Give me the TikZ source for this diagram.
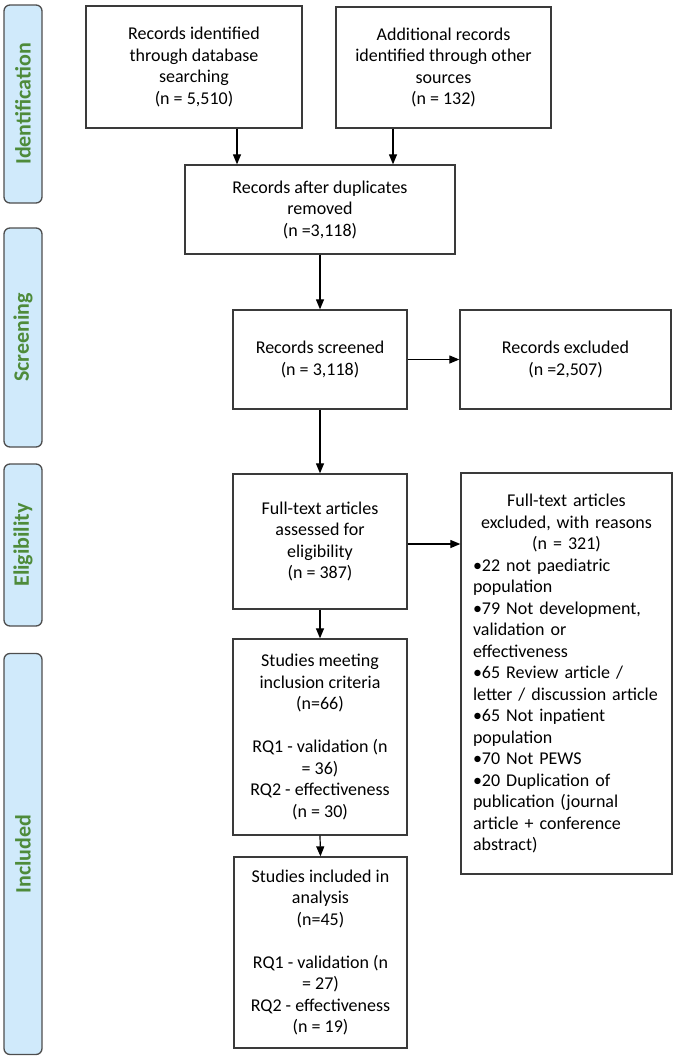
\documentclass[tikz,border=0pt]{standalone}
\usepackage{fontspec}
\setmainfont{Carlito}
\usetikzlibrary{arrows.meta,calc}
\definecolor{barfill}{HTML}{D0EAFB}
\definecolor{bartext}{HTML}{4E8B3A}
\definecolor{boxline}{HTML}{3A3A3A}
\begin{document}
\begin{tikzpicture}[x=1pt,y=-1pt,
  flowbox/.style={draw=boxline,line width=1.3pt,fill=white,inner sep=0pt,align=center,
    font=\fontsize{18}{21.5}\selectfont},
  phasebar/.style={draw=boxline!90,line width=1.3pt,fill=barfill,rounded corners=6pt,inner sep=0pt,
    minimum width=38pt},
  phaselabel/.style={rotate=90,text=bartext,font=\fontsize{22}{26}\selectfont\bfseries},
  flowarrow/.style={-{Triangle[length=10pt,width=8pt]},line width=1.2pt,draw=black}]
\useasboundingbox (0,0) rectangle (674,1060);
% phase bars
\node[phasebar,minimum height=198pt] (pb1) at (23,104) {};
\node[phaselabel] (pl1) at (pb1.center) {Identification};
\node[phasebar,minimum height=219pt] (pb2) at (23,337.5) {};
\node[phaselabel] (pl2) at (pb2.center) {Screening};
\node[phasebar,minimum height=162pt] (pb3) at (23,545) {};
\node[phaselabel] (pl3) at (pb3.center) {Eligibility};
\node[phasebar,minimum height=401pt] (pb4) at (23,854) {};
\node[phaselabel] (pl4) at (pb4.center) {Included};
% boxes
\node[flowbox,minimum width=216pt,minimum height=122pt] (db) at (194,67)
  {Records identified\\through database\\searching\\(n = 5,510)};
\node[flowbox,minimum width=215pt,minimum height=121pt] (other) at (443.5,67.5)
  {Additional records\\identified through other\\sources\\(n = 132)};
\node[flowbox,minimum width=270pt,minimum height=89pt] (dup) at (320,209.5)
  {Records after duplicates\\removed\\(n =3,118)};
\node[flowbox,minimum width=174pt,minimum height=99pt] (scr) at (320,359.5)
  {Records screened\\(n = 3,118)};
\node[flowbox,minimum width=211pt,minimum height=99pt] (exc) at (565.5,359.5)
  {Records excluded\\(n =2,507)};
\node[flowbox,minimum width=174pt,minimum height=135pt] (ft) at (320,541.5)
  {Full-text articles\\assessed for\\eligibility\\(n = 387)};
\node[flowbox,minimum width=211pt,minimum height=401pt,align=left,text width=187pt] (ftx) at (566.5,673.5)
  {{\centering Full-text articles\\excluded, with reasons\\(n = 321)\par}
   \raggedright •22 not paediatric\\population\\•79 Not development,\\validation or\\effectiveness\\•65 Review article /\\letter / discussion article\\•65 Not inpatient\\population\\•70 Not PEWS\\•20 Duplication of\\publication (journal\\article + conference\\abstract)};
\node[flowbox,minimum width=174pt,minimum height=196pt] (meet) at (320,737)
  {Studies meeting\\inclusion criteria\\(n=66)\\[21.5pt]RQ1 - validation (n\\= 36)\\RQ2 - effectiveness\\(n = 30)};
\node[flowbox,minimum width=173pt,minimum height=191pt] (incl) at (320.5,952.5)
  {Studies included in\\analysis\\(n=45)\\[21.5pt]RQ1 - validation (n\\= 27)\\RQ2 - effectiveness\\(n = 19)};
% arrows
\coordinate (a1) at ($(dup.north)+(-83,0)$);
\coordinate (a2) at ($(dup.north)+(73,0)$);
\draw[flowarrow] (a1 |- db.south) -- (a1);
\draw[flowarrow] (a2 |- other.south) -- (a2);
\draw[flowarrow] (dup.south) -- (scr.north);
\draw[flowarrow] (scr.east) -- (exc.west);
\draw[flowarrow] (scr.south) -- (ft.north);
\coordinate (a3) at ($(ft.east)+(0,2.5)$);
\draw[flowarrow] (a3) -- (a3 -| ftx.west);
\draw[flowarrow] (ft.south) -- (meet.north);
\draw[flowarrow] (meet.south) -- (incl.north);
\end{tikzpicture}
\end{document}
